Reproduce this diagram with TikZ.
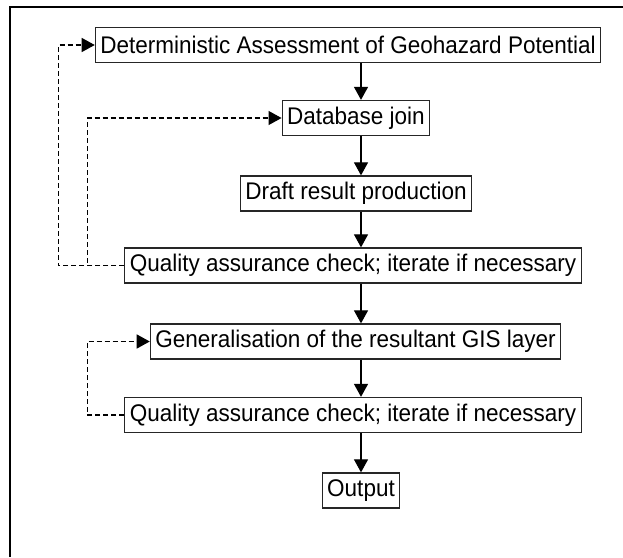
\documentclass[tikz,border=0pt]{standalone}
\usepackage{fontspec}
\setmainfont{Liberation Sans}
\usetikzlibrary{arrows.meta}
\newcommand{\steptext}[1]{\scalebox{1}[1.07]{#1}}
\tikzset{
    stage/.style={draw=black!85, line width=1.3pt, fill=white, inner xsep=5pt, inner ysep=0pt, minimum height=35pt, font=\fontsize{22.5}{26}\selectfont},
    flow/.style={-{Triangle[length=13pt,width=14pt]}, black, line width=1.2pt},
    loop/.style={dash pattern=on 5pt off 3pt, line width=1.2pt, -{Triangle[length=13pt,width=14pt]}},
}
\begin{document}
\begin{tikzpicture}[x=1pt,y=-1pt]
    \useasboundingbox (0,0) rectangle (623,557);
    \draw[line width=1.5pt] (10,557) -- (10,7) -- (623,7);
    \node[stage] (geo) at (348,45) {\steptext{Deterministic Assessment of Geohazard Potential}};
    \node[stage] (join) at (356,118) {\steptext{Database join}};
    \node[stage] (draft) at (356,193.5) {\steptext{Draft result production}};
    \node[stage] (qa1) at (353,265.5) {\steptext{Quality assurance check; iterate if necessary}};
    \node[stage] (gen) at (355.5,341.5) {\steptext{Generalisation of the resultant GIS layer}};
    \node[stage] (qa2) at (353,415) {\steptext{Quality assurance check; iterate if necessary}};
    \node[stage] (out) at (361,490.5) {\steptext{Output}};
    \foreach \a/\b in {geo/join, join/draft, draft/qa1, qa1/gen, gen/qa2, qa2/out} {
        \draw[flow] (\a.south -| out) -- (\b.north -| out);
    }
    \draw[loop] (qa1.west) -- ++(-66,0) |- (geo.west);
    \draw[loop] (qa1.west) -- ++(-37,0) |- (join.west);
    \draw[loop] (qa2.west) -- ++(-37,0) |- (gen.west);
\end{tikzpicture}
\end{document}
